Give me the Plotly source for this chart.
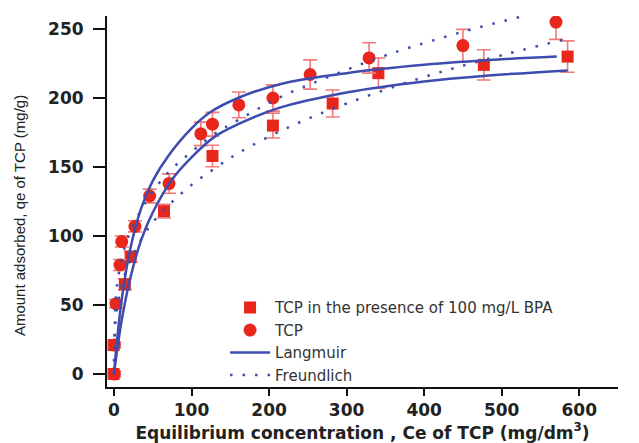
import plotly.graph_objects as go

bpa_ce = [-0.5, -0.5, 14, 21.5, 64.5, 127, 205, 282, 341, 477, 585]
bpa_qe = [0, 21, 65, 85, 118, 158, 180, 196, 218, 224, 230]
bpa_err = [2, 2, 4, 4, 5, 7.8, 9, 9.8, 11, 11, 11.4]

tcp_ce = [0.5, 0.5, 2.6, 7.7, 10, 27, 46, 71, 112, 127, 161, 205, 253, 329, 450, 570]
tcp_qe = [0, 21, 51, 79, 96, 107, 129, 138, 174, 181, 195, 200, 217, 229, 238, 255]
tcp_err = [2, 2, 3, 4, 4, 4, 5, 7, 8.5, 8.6, 9.3, 9.5, 10.6, 11, 11.7, 12.5]

# ---- Model curves ----
lang_tcp_c = [0, 2, 5, 10, 20, 35, 50, 70, 100, 125, 160, 214, 300, 400, 500, 571]
lang_tcp_q = [0, 13, 30, 54, 88, 120, 140, 158, 178, 190, 200, 210, 218, 224, 228, 230]

lang_bpa_c = [0, 2, 5, 10, 20, 35, 50, 75, 100, 130, 160, 214, 300, 400, 476, 585]
lang_bpa_q = [0, 9, 21, 39, 67, 97, 117, 141, 157, 172, 181, 193, 204, 212, 216, 220]

freu_tcp_c = [0, 3, 8, 15, 25, 46, 70, 100, 130, 160, 216, 280, 351, 450, 533, 585]
freu_tcp_q = [0, 59, 78, 94, 108, 129, 146, 161, 174, 184, 201, 216, 231, 248, 260, 267]

freu_bpa_c = [0, 2, 8, 15, 25, 46, 70, 100, 130, 160, 226, 300, 393, 480, 585]
freu_bpa_q = [0, 38, 60, 74, 87, 107, 122, 137, 149, 160, 179, 196, 214, 228, 243]

x_title = "Equilibrium concentration , Ce of TCP (mg/dm<sup>3</sup>)"
y_title = "Amount adsorbed, qe of TCP (mg/g)"

RED = "#e8261c"
ERR = "#f27a7a"
BLUE = "#3d4cae"
FONT = "DejaVu Sans"

fig = go.Figure()
fig.add_trace(go.Scatter(
    x=bpa_ce, y=bpa_qe, mode="markers", name="TCP in the presence of 100 mg/L BPA",
    marker=dict(symbol="square", size=12, color=RED),
    error_y=dict(type="data", array=bpa_err, color=ERR, thickness=1.6, width=7),
))
fig.add_trace(go.Scatter(
    x=tcp_ce, y=tcp_qe, mode="markers", name="TCP",
    marker=dict(symbol="circle", size=13, color=RED),
    error_y=dict(type="data", array=tcp_err, color=ERR, thickness=1.6, width=7),
))
fig.add_trace(go.Scatter(
    x=lang_tcp_c, y=lang_tcp_q, mode="lines", name="Langmuir",
    line=dict(color=BLUE, width=2.5, shape="spline"),
))
fig.add_trace(go.Scatter(
    x=freu_tcp_c, y=freu_tcp_q, mode="lines", name="Freundlich",
    line=dict(color=BLUE, width=2.5, dash="2.5px,10px", shape="spline"),
))
fig.add_trace(go.Scatter(
    x=lang_bpa_c, y=lang_bpa_q, mode="lines", showlegend=False,
    line=dict(color=BLUE, width=2.5, shape="spline"),
))
fig.add_trace(go.Scatter(
    x=freu_bpa_c, y=freu_bpa_q, mode="lines", showlegend=False,
    line=dict(color=BLUE, width=2.5, dash="2.5px,10px", shape="spline"),
))

fig.add_annotation(
    text=y_title, xref="paper", yref="paper", x=-0.170, y=0.461,
    xanchor="center", yanchor="middle", textangle=-90, showarrow=False,
    font=dict(size=15, family="Liberation Sans Narrow, Liberation Sans", color="#222"),
)

fig.update_layout(
    width=639, height=443,
    margin=dict(l=107, r=21, t=16, b=56),
    plot_bgcolor="white", paper_bgcolor="white",
    font=dict(family=FONT, color="#222"),
    legend=dict(x=0.231, y=0.258, xanchor="left", yanchor="top",
                bgcolor="rgba(0,0,0,0)", font=dict(size=15, color="#333"),
                tracegroupgap=0, itemwidth=40),
    xaxis=dict(
        range=[-9, 650], tickvals=[0, 100, 200, 300, 400, 500, 600],
        showline=True, linecolor="#111", linewidth=2, showgrid=False, zeroline=False,
        ticks="outside", ticklen=7, tickwidth=2, tickcolor="#111",
        tickfont=dict(size=17, family=FONT, color="#222", weight="bold"),
        title=dict(text=x_title,
                   font=dict(size=17, family=FONT, color="#222", weight="bold"), standoff=4),
        automargin=False,
    ),
    yaxis=dict(
        range=[-9.4, 259.4], tickvals=[0, 50, 100, 150, 200, 250],
        showline=True, linecolor="#111", linewidth=2, showgrid=False, zeroline=False,
        ticks="outside", ticklen=12, tickwidth=2, tickcolor="#111",
        ticklabelstandoff=6,
        tickfont=dict(size=17, family=FONT, color="#222", weight="bold"),
        automargin=False,
    ),
)

fig.write_html("out.html")
